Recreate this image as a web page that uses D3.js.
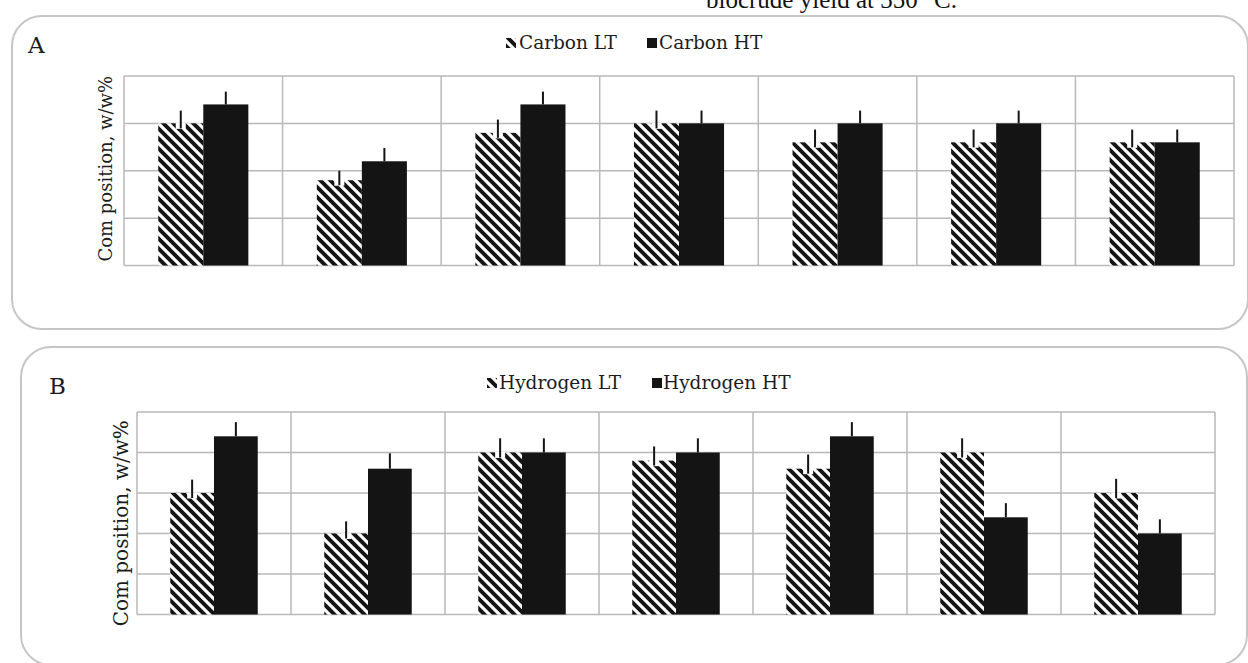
<!DOCTYPE html>
<html>
<head>
<meta charset="utf-8">
<script src="https://cdn.jsdelivr.net/npm/d3@7"></script>
<style>
  body { margin: 0; background: #fff; }
  svg { display: block; }
</style>
</head>
<body>
<svg id="chart" width="1248" height="663"></svg>
<script>
// Seven samples, low- and high-temperature runs
const samples = ["S1", "S2", "S3", "S4", "S5", "S6", "S7"];

// Panel A: carbon composition
const carbonLT    = [3.0, 1.8, 2.8, 3.0, 2.6, 2.6, 2.6];
const carbonHT    = [3.4, 2.2, 3.4, 3.0, 3.0, 3.0, 2.6];
const carbonLTErr = [0.27, 0.20, 0.28, 0.27, 0.27, 0.27, 0.27];
const carbonHTErr = [0.27, 0.28, 0.27, 0.27, 0.27, 0.27, 0.27];
const carbonTicks = [0, 1, 2, 3, 4];

// Panel B: hydrogen composition
const hydrogenLT    = [3.0, 2.0, 4.0, 3.8, 3.6, 4.0, 3.0];
const hydrogenHT    = [4.4, 3.6, 4.0, 4.0, 4.4, 2.4, 2.0];
const hydrogenLTErr = [0.33, 0.30, 0.35, 0.35, 0.35, 0.35, 0.35];
const hydrogenHTErr = [0.35, 0.38, 0.35, 0.35, 0.35, 0.35, 0.35];
const hydrogenTicks = [0, 1, 2, 3, 4, 5];

const carbonSeries   = ["Carbon LT", "Carbon HT"];
const hydrogenSeries = ["Hydrogen LT", "Hydrogen HT"];
const yTitle = "Com position, w/w%";
const captionTail = "biocrude yield at 350 °C.";

const svg = d3.select("#chart");
const INK = "#141414";
const GRID = "#b9b9b9";
const TEXT = "#1c1c1c";

// diagonal hatch for the LT bars
const defs = svg.append("defs");
const hatch = defs.append("pattern")
  .attr("id", "hatch")
  .attr("patternUnits", "userSpaceOnUse")
  .attr("width", 10).attr("height", 10);
hatch.append("rect").attr("width", 10).attr("height", 10).attr("fill", "#fff");
hatch.append("path")
  .attr("d", "M-2,-2 L12,12 M-2,8 L2,12 M8,-2 L12,2")
  .attr("stroke", INK).attr("stroke-width", 3.9);

// caption text cut off by the top edge
svg.append("text")
  .attr("x", 706).attr("y", 8)
  .attr("font-family", "Liberation Serif, serif")
  .attr("font-size", 25)
  .attr("fill", "#111")
  .text(captionTail);

function drawPanel(cfg) {
  const g = svg.append("g");

  // rounded frame
  g.append("rect")
    .attr("x", cfg.frame[0]).attr("y", cfg.frame[1])
    .attr("width", cfg.frame[2]).attr("height", cfg.frame[3])
    .attr("rx", 30).attr("ry", 30)
    .attr("fill", "#fff").attr("stroke", "#c6c6c6").attr("stroke-width", 2);

  g.append("text")
    .attr("x", cfg.labelPos[0]).attr("y", cfg.labelPos[1])
    .attr("font-family", "DejaVu Serif, serif")
    .attr("font-size", 23)
    .attr("fill", TEXT)
    .text(cfg.label);

  const [x0, x1, y0, y1] = cfg.plot; // left, right, top, bottom

  const x = d3.scaleBand().domain(samples).range([x0, x1]).paddingInner(0).paddingOuter(0);
  const xs = d3.scaleBand().domain(cfg.series).range([0, x.bandwidth()])
    .paddingInner(0).paddingOuter(0.76);
  const y = d3.scaleLinear().domain(d3.extent(cfg.ticks)).range([y1, y0]);

  // horizontal grid
  g.append("g").selectAll("line").data(cfg.ticks).join("line")
    .attr("x1", x0).attr("x2", x1)
    .attr("y1", d => y(d)).attr("y2", d => y(d))
    .attr("stroke", GRID).attr("stroke-width", 1.5);

  // category separators
  const edges = samples.map(s => x(s)).concat([x1]);
  g.append("g").selectAll("line").data(edges).join("line")
    .attr("x1", d => d).attr("x2", d => d)
    .attr("y1", y0).attr("y2", y1)
    .attr("stroke", GRID).attr("stroke-width", 1.5);

  const rows = [];
  samples.forEach((s, i) => {
    rows.push({ s, k: cfg.series[0], v: cfg.lt[i], e: cfg.ltErr[i], hatched: true });
    rows.push({ s, k: cfg.series[1], v: cfg.ht[i], e: cfg.htErr[i], hatched: false });
  });

  g.append("g").selectAll("rect").data(rows).join("rect")
    .attr("x", d => x(d.s) + xs(d.k))
    .attr("width", xs.bandwidth())
    .attr("y", d => y(d.v))
    .attr("height", d => y(0) - y(d.v))
    .attr("fill", d => d.hatched ? "url(#hatch)" : INK);

  // white notch where the error bar meets the hatched bar
  g.append("g").selectAll("rect").data(rows.filter(d => d.hatched)).join("rect")
    .attr("x", d => x(d.s) + xs(d.k) + xs.bandwidth() / 2 - 5)
    .attr("width", 10)
    .attr("y", d => y(d.v) - 0.5)
    .attr("height", 6)
    .attr("fill", "#fff");

  // upper error bars
  g.append("g").selectAll("line").data(rows).join("line")
    .attr("x1", d => x(d.s) + xs(d.k) + xs.bandwidth() / 2)
    .attr("x2", d => x(d.s) + xs(d.k) + xs.bandwidth() / 2)
    .attr("y1", d => y(d.v) + (d.hatched ? 5 : 0))
    .attr("y2", d => y(d.v + d.e))
    .attr("stroke", INK).attr("stroke-width", 2);

  // y-axis title
  const midY = (y0 + y1) / 2 + cfg.yTitleShift;
  g.append("text")
    .attr("transform", `translate(${cfg.yTitleX},${midY}) rotate(-90)`)
    .attr("text-anchor", "middle")
    .attr("font-family", "DejaVu Serif, serif")
    .attr("font-size", cfg.yTitleSize)
    .attr("fill", TEXT)
    .text(yTitle);

  // legend
  const lg = g.append("g").attr("font-family", "DejaVu Serif, serif")
    .attr("font-size", 18.5).attr("fill", TEXT);
  cfg.series.forEach((name, i) => {
    const [mx, tx] = cfg.legendX[i];
    lg.append("rect")
      .attr("x", mx).attr("y", cfg.legendY - 11)
      .attr("width", 10).attr("height", 10)
      .attr("fill", i === 0 ? "url(#hatch)" : INK);
    lg.append("text").attr("x", tx).attr("y", cfg.legendY).text(name);
  });
}

drawPanel({
  frame: [12, 16, 1236, 313],
  label: "A",
  labelPos: [28, 53],
  plot: [124, 1234, 76, 265.5],
  series: carbonSeries,
  lt: carbonLT, ht: carbonHT, ltErr: carbonLTErr, htErr: carbonHTErr,
  ticks: carbonTicks,
  yTitleX: 112, yTitleSize: 18, yTitleShift: -2,
  legendY: 49,
  legendX: [[506, 519], [647, 659]]
});

drawPanel({
  frame: [21, 347, 1226, 318],
  label: "B",
  labelPos: [49, 394],
  plot: [137, 1215, 412, 614.5],
  series: hydrogenSeries,
  lt: hydrogenLT, ht: hydrogenHT, ltErr: hydrogenLTErr, htErr: hydrogenHTErr,
  ticks: hydrogenTicks,
  yTitleX: 128, yTitleSize: 20, yTitleShift: 10,
  legendY: 389,
  legendX: [[487, 499], [652, 663]]
});
</script>
</body>
</html>
